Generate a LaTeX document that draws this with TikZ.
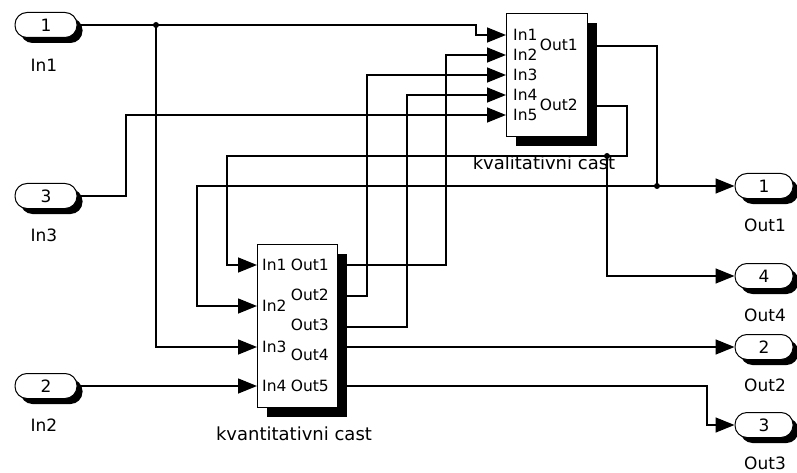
\documentclass[tikz,border=0pt]{standalone}
\usepackage{fontspec}
\setmainfont{DejaVu Sans}
\usetikzlibrary{arrows.meta,shadows}

\tikzset{
  wire/.style={line width=1.5pt},
  sig/.style={wire, -{Triangle[length=19pt,width=15pt]}},
  blockshadow/.style={drop shadow={shadow xshift=#1, shadow yshift=-#1, fill=black, opacity=1}},
  port/.style={draw, fill=white, line width=1pt, rounded corners=12pt, minimum height=25pt,
    inner sep=0pt, blockshadow=5.5pt, font=\fontsize{17}{17}\selectfont},
  subsys/.style={draw, fill=white, line width=1pt, inner sep=0pt, blockshadow=9.5pt},
  plab/.style={font=\fontsize{15.5}{15.5}\selectfont, inner sep=0pt},
  portlab/.style={font=\fontsize{17}{17}\selectfont, inner sep=0pt},
  caption/.style={font=\fontsize{18}{18}\selectfont, inner sep=0pt},
  dot/.style={circle, fill, inner sep=0pt, minimum size=6pt}
}

\begin{document}
\begin{tikzpicture}[x=1pt, y=-1pt]
\useasboundingbox (0,0) rectangle (797,473);
% subsystems
\node[subsys, minimum width=81pt, minimum height=123pt] (kvl) at (546.5,75.5) {};
\node[subsys, minimum width=80pt, minimum height=163pt] (kvn) at (297,325.5) {};
\node[caption] (kvl-cap) at (544,163) {kvalitativni cast};
\node[caption] (kvn-cap) at (294,434) {kvantitativni cast};
% port points and labels of the subsystems
\foreach \i/\y in {1/35,2/55,3/75,4/95,5/115} {
  \coordinate (kvl-in\i) at (506,\y);
  \node[plab, anchor=west] (kvl-lin\i) at (513,\y) {In\i};
}
\foreach \i/\y/\t in {1/46/45,2/106/105} {
  \coordinate (kvl-out\i) at (587,\y);
  \node[plab, anchor=east] (kvl-lout\i) at (578,\t) {Out\i};
}
\foreach \i/\y in {1/265,2/306,3/347,4/386} {
  \coordinate (kvn-in\i) at (257,\y);
  \node[plab, anchor=west] (kvn-lin\i) at (262,\y) {In\i};
}
\foreach \i/\y/\t in {1/265/265,2/296/295,3/327/325,4/347/355,5/386/386} {
  \coordinate (kvn-out\i) at (337,\y);
  \node[plab, anchor=east] (kvn-lout\i) at (329,\t) {Out\i};
}
% inports
\node[port, minimum width=62pt] (in1) at (46,25) {1};
\node[port, minimum width=62pt] (in3) at (46,196) {3};
\node[port, minimum width=62pt] (in2) at (46,386) {2};
\node[portlab] (in1-lab) at (44,65) {In1};
\node[portlab] (in3-lab) at (44,235) {In3};
\node[portlab] (in2-lab) at (44,425) {In2};
% outports
\node[port, minimum width=58pt] (out1) at (764,186) {1};
\node[port, minimum width=58pt] (out4) at (764,276) {4};
\node[port, minimum width=58pt] (out2) at (764,347) {2};
\node[port, minimum width=58pt] (out3) at (764,425) {3};
\node[portlab] (out1-lab) at (765,225) {Out1};
\node[portlab] (out4-lab) at (765,315) {Out4};
\node[portlab] (out2-lab) at (765,385) {Out2};
\node[portlab] (out3-lab) at (765,463) {Out3};
% branch points
\coordinate (j1) at (156,25);
\coordinate (j2) at (657,186);
\coordinate (j3) at (607,156);
\node[dot] (j1-dot) at (j1) {};
\node[dot] (j2-dot) at (j2) {};
\node[dot] (j3-dot) at (j3) {};
% wires
\draw[sig] (in1.east) -- (476,25) |- (kvl-in1);
\draw[sig] (j1) |- (kvn-in3);
\draw[sig] (in3.east) -- (126,196) |- (kvl-in5);
\draw[sig] (in2.east) -- (kvn-in4);
\draw[sig] (kvn-out1) -- (446,265) |- (kvl-in2);
\draw[sig] (kvn-out2) -- (367,296) |- (kvl-in3);
\draw[sig] (kvn-out3) -- (407,327) |- (kvl-in4);
\draw[sig] (kvn-out4) -- (out2.west);
\draw[sig] (kvn-out5) -- (707,386) |- (out3.west);
\draw[wire] (kvl-out1) -| (j2);
\draw[sig] (j2) -- (out1.west);
\draw[sig] (j2) -- (197,186) |- (kvn-in2);
\draw[wire] (kvl-out2) -- (627,106) |- (j3);
\draw[sig] (j3) -- (227,156) |- (kvn-in1);
\draw[sig] (j3) |- (out4.west);
\end{tikzpicture}
\end{document}
